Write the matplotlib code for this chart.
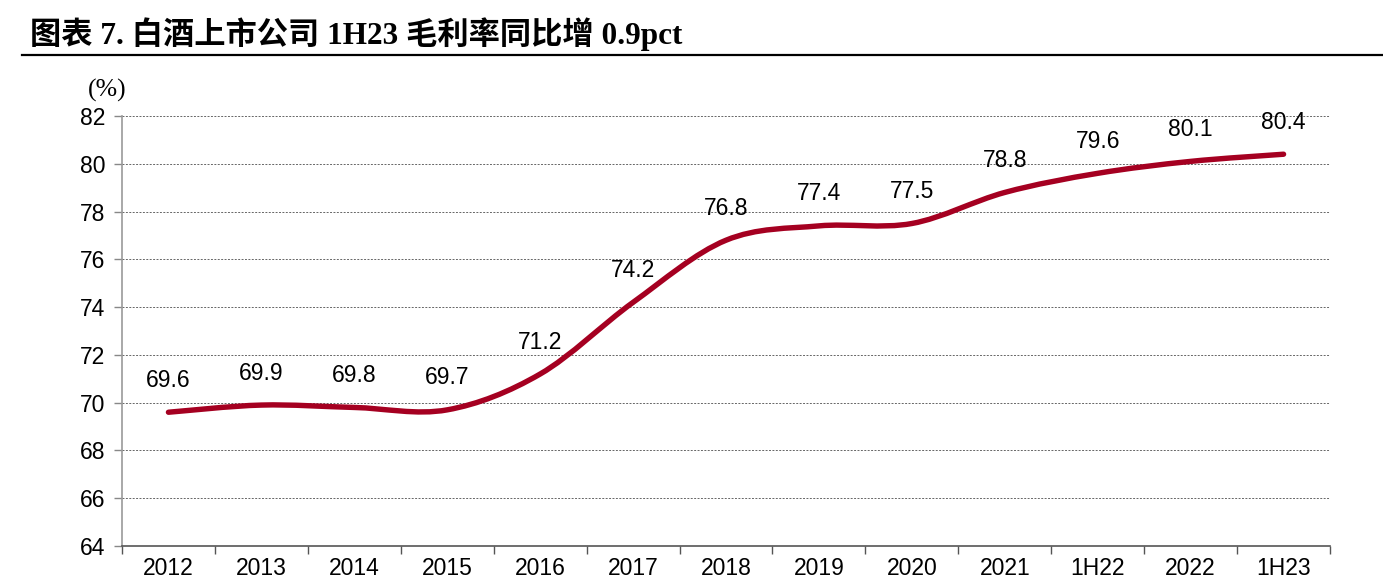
import matplotlib
matplotlib.use("Agg")
import matplotlib.pyplot as plt
from matplotlib.path import Path
from matplotlib.patches import PathPatch
import numpy as np

# Data
categories = ["2012", "2013", "2014", "2015", "2016", "2017", "2018",
              "2019", "2020", "2021", "1H22", "2022", "1H23"]
gross_margin = [69.6, 69.9, 69.8, 69.7, 71.2, 74.2, 76.8,
                77.4, 77.5, 78.8, 79.6, 80.1, 80.4]
y_ticks = [64, 66, 68, 70, 72, 74, 76, 78, 80, 82]

title = "图表 7. 白酒上市公司 1H23 毛利率同比增 0.9pct"
unit_label = "(%)"

LINE_COLOR = "#A50021"
NUM_FONT = "Liberation Sans"
NUM_SIZE = 16.5


def smooth_path(xs, ys):
    """Excel-like smoothed line: Catmull-Rom segments as cubic Beziers."""
    pts = np.column_stack([xs, ys]).astype(float)
    n = len(pts)
    verts = [pts[0]]
    codes = [Path.MOVETO]
    for i in range(n - 1):
        p0 = pts[max(i - 1, 0)]
        p1 = pts[i]
        p2 = pts[i + 1]
        p3 = pts[min(i + 2, n - 1)]
        c1 = p1 + (p2 - p0) / 6.0
        c2 = p2 - (p3 - p1) / 6.0
        verts += [c1, c2, p2]
        codes += [Path.CURVE4] * 3
    return Path(verts, codes)


fig = plt.figure(figsize=(13.83, 5.87), dpi=100)
ax = fig.add_axes([0.0882, 0.0698, 0.8735, 0.7326])

x = np.arange(len(categories))
ax.add_patch(PathPatch(smooth_path(x, gross_margin), facecolor="none",
                       edgecolor=LINE_COLOR, lw=3.9, capstyle="round",
                       joinstyle="round", zorder=3))

for xi, v in zip(x, gross_margin):
    ax.annotate(f"{v:.1f}", (xi, v), xytext=(0, 23), textcoords="offset points",
                ha="center", va="center", fontsize=NUM_SIZE,
                family=NUM_FONT, color="black")

ax.set_xlim(-0.5, len(categories) - 0.5)
ax.set_ylim(64, 82)
ax.set_yticks(y_ticks)
ax.set_yticklabels([str(t) for t in y_ticks], family=NUM_FONT, fontsize=NUM_SIZE)
ax.set_xticks(x)
ax.set_xticklabels(categories, family=NUM_FONT, fontsize=NUM_SIZE)
ax.set_xticks(np.arange(len(categories) + 1) - 0.5, minor=True)

ax.tick_params(axis="x", which="major", length=0, pad=8)
ax.tick_params(axis="x", which="minor", length=6, color="#555555", width=1, direction="out")
ax.tick_params(axis="y", length=6, color="#888888", width=1, direction="out", pad=6)

ax.grid(axis="y", color="#666666", linestyle=(0, (2, 1.5)), linewidth=0.7)
ax.set_axisbelow(True)
for side in ("top", "right"):
    ax.spines[side].set_visible(False)
ax.spines["left"].set_color("#999999")
ax.spines["left"].set_linewidth(1.2)
ax.spines["bottom"].set_color("#555555")
ax.spines["bottom"].set_linewidth(1.2)

# Title and rule
fig.text(30 / 1383, 1 - 34 / 587, title, ha="left", va="center", fontsize=22.5,
         fontweight="bold", family=["Liberation Serif", "Noto Sans CJK SC"])
fig.add_artist(plt.Line2D([22 / 1383, 1.0], [1 - 55 / 587, 1 - 55 / 587],
                          color="black", lw=1.6))
fig.text(107 / 1383, 1 - 90 / 587, unit_label, ha="center", va="center",
         fontsize=18.5, family="Liberation Serif")

fig.savefig("out.png", dpi=100)
